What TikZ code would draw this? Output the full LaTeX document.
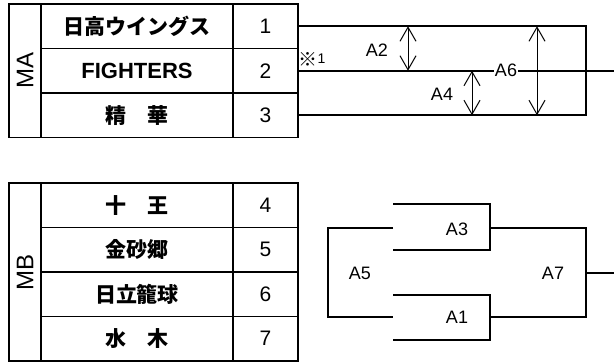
\documentclass[tikz,border=0pt]{standalone}
\usepackage{fontspec}
\setmainfont{Liberation Sans}
\newfontfamily\jp{Noto Sans CJK JP}
\usetikzlibrary{arrows.meta}
\begin{document}
\begin{tikzpicture}[x=1pt,y=-1pt,
  cell/.style={draw,line width=1.8pt,inner sep=0pt,anchor=center},
  grp/.style={cell,minimum width=32pt,font=\fontsize{24}{28}\selectfont},
  namecell/.style={cell,minimum width=192pt,minimum height=44.5pt,font=\jp\bfseries\fontsize{21}{25}\selectfont},
  latname/.style={cell,minimum width=192pt,minimum height=44.5pt,font=\bfseries\fontsize{22}{26}\selectfont},
  numcell/.style={cell,minimum width=65pt,minimum height=44.5pt,font=\fontsize{21}{25}\selectfont},
  br/.style={line width=1.8pt},
  dim/.style={line width=1pt,{Straight Barb[length=14pt,width=16pt]}-{Straight Barb[length=14pt,width=16pt]}},
  lab/.style={font=\fontsize{18}{21}\selectfont,inner sep=1pt},
  note/.style={font=\fontsize{14}{17}\selectfont,inner sep=0pt}]
\useasboundingbox (0,0) rectangle (614,364);
% top table
\node[grp,minimum height=133.5pt] (MA) at (25,70.75) {\rotatebox{90}{MA}};
\node[namecell] (t1) at (137,26.25) {日高ウイングス};
\node[latname] (t2) at (137,70.75) {FIGHTERS};
\node[namecell] (t3) at (137,115.25) {精　華};
\node[numcell] (n1) at (265.5,26.25) {1};
\node[numcell] (n2) at (265.5,70.75) {2};
\node[numcell] (n3) at (265.5,115.25) {3};
% bottom table
\node[grp,minimum height=178pt] (MB) at (25,272) {\rotatebox{90}{MB}};
\node[namecell] (t4) at (137,205.25) {十　王};
\node[namecell] (t5) at (137,249.75) {金砂郷};
\node[namecell] (t6) at (137,294.25) {日立籠球};
\node[namecell] (t7) at (137,338.75) {水　木};
\node[numcell] (n4) at (265.5,205.25) {4};
\node[numcell] (n5) at (265.5,249.75) {5};
\node[numcell] (n6) at (265.5,294.25) {6};
\node[numcell] (n7) at (265.5,338.75) {7};
% top bracket
\coordinate (c1) at (586,26.25);
\coordinate (c3) at (586,115.25);
\coordinate (out1) at (614,70.75);
\node[lab] (A6) at (506,70.75) {A6};
\draw[br] (n1.east) -- (c1) -- (c3) -- (n3.east);
\draw[br] (n2.east) -- (A6.west);
\draw[br] (A6.east) -- (out1);
\coordinate (a2t) at (408,26.25);
\coordinate (a2b) at (408,70.75);
\coordinate (a4t) at (472,70.75);
\coordinate (a4b) at (472,115.25);
\coordinate (a6t) at (537,26.25);
\coordinate (a6b) at (537,115.25);
\draw[dim] (a2t) -- (a2b);
\draw[dim] (a4t) -- (a4b);
\draw[dim] (a6t) -- (a6b);
\node[lab] (A2) at (377,50) {A2};
\node[lab] (A4) at (442,94) {A4};
\node[note] (nt) at (312,59) {\raisebox{-2.5pt}{\jp\fontsize{19}{21}\selectfont ※}1};
% bottom bracket
\coordinate (a3a) at (393,204);
\coordinate (a3b) at (490,204);
\coordinate (a3c) at (490,250);
\coordinate (a3d) at (393,250);
\coordinate (a3o) at (490,228);
\coordinate (a3i) at (393,228);
\coordinate (a1a) at (393,295);
\coordinate (a1b) at (490,295);
\coordinate (a1c) at (490,340);
\coordinate (a1d) at (393,340);
\coordinate (a1o) at (490,317);
\coordinate (a1i) at (393,317);
\coordinate (l1) at (328,228);
\coordinate (l2) at (328,317);
\coordinate (r1) at (586,228);
\coordinate (r2) at (586,317);
\coordinate (r3) at (586,273);
\coordinate (out2) at (614,273);
\draw[br] (a3a) -- (a3b) -- (a3c) -- (a3d);
\draw[br] (a1a) -- (a1b) -- (a1c) -- (a1d);
\draw[br] (a3i) -- (l1) -- (l2) -- (a1i);
\draw[br] (a3o) -- (r1) -- (r2) -- (a1o);
\draw[br] (r3) -- (out2);
\node[lab] (A3) at (457,229) {A3};
\node[lab] (A1) at (457,317) {A1};
\node[lab] (A5) at (360,273) {A5};
\node[lab] (A7) at (553,273) {A7};
\end{tikzpicture}
\end{document}
